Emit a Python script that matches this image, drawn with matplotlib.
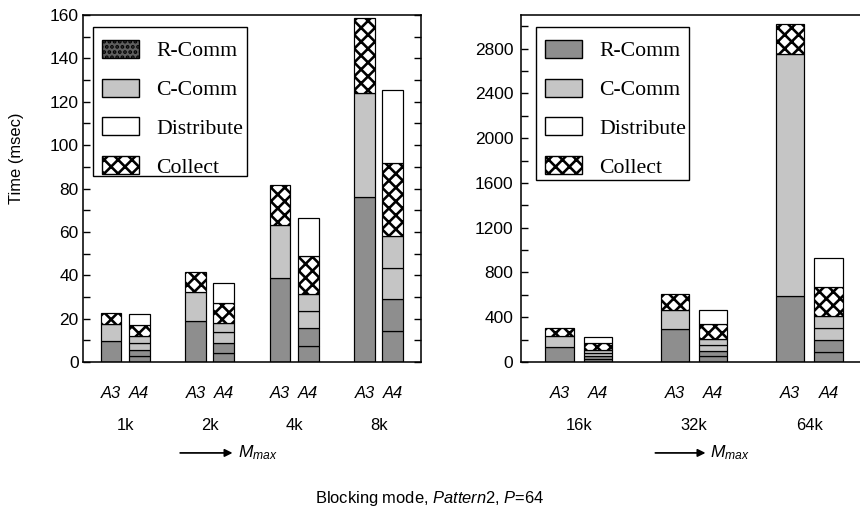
import matplotlib.pyplot as plt
from matplotlib.patches import Patch, Rectangle
from matplotlib.ticker import MultipleLocator

plt.rcParams['font.family'] = 'Liberation Sans'
plt.rcParams['mathtext.fontset'] = 'custom'
plt.rcParams['mathtext.rm'] = 'Liberation Sans'
plt.rcParams['mathtext.it'] = 'Liberation Sans:italic'
plt.rcParams['hatch.linewidth'] = 1.5

# message sizes 1k..8k (msec)
sizes_small = ['1k', '2k', '4k', '8k']
a3_rcomm_small = [9.8, 18.9, 38.6, 76.3]
a3_ccomm_small = [7.6, 13.3, 24.6, 47.7]
a3_collect_small = [5.1, 9.5, 18.2, 34.6]
a4_rcomm_small = [[2.8, 2.7], [4.3, 4.3], [7.5, 8.0], [14.3, 14.6]]
a4_ccomm_small = [[3.1, 3.4], [5.1, 4.5], [8.0, 8.0], [14.6, 14.8]]
a4_collect_small = [5.1, 9.2, 17.6, 33.4]
a4_distribute_small = [5.1, 8.9, 17.2, 33.5]

# message sizes 16k..64k (msec)
sizes_large = ['16k', '32k', '64k']
a3_rcomm_large = [138, 291, 592]
a3_ccomm_large = [90, 174, 2157]
a3_collect_large = [75, 144, 270]
a4_rcomm_large = [[27, 27], [51, 51], [93, 105]]
a4_ccomm_large = [[27, 27], [51, 51], [105, 105]]
a4_collect_large = [66, 135, 264]
a4_distribute_large = [48, 129, 261]

R_COLOR = '#8e8e8e'
C_COLOR = '#c5c5c5'
W = 0.245
OFF = 0.167
HATCH = 'xxx'

r_style = dict(facecolor=R_COLOR, edgecolor='black', linewidth=0.7)
c_style = dict(facecolor=C_COLOR, edgecolor='black', linewidth=0.7)
d_style = dict(facecolor='white', edgecolor='black', linewidth=0.7)
x_style = dict(facecolor='white', edgecolor='black', linewidth=0.7, hatch=HATCH)


def stack(ax, x, parts):
    bottom = 0
    for h, style in parts:
        ax.bar(x, h, W, bottom=bottom, **style)
        bottom += h


def panel(ax, sizes, a3r, a3c, a3x, a4r, a4c, a4x, a4d):
    for i in range(len(sizes)):
        stack(ax, i - OFF, [(a3r[i], r_style), (a3c[i], c_style), (a3x[i], x_style)])
        parts = [(h, r_style) for h in a4r[i]] + [(h, c_style) for h in a4c[i]]
        parts += [(a4x[i], x_style), (a4d[i], d_style)]
        stack(ax, i + OFF, parts)
    ax.set_xlim(-0.5, len(sizes) - 0.5)
    ax.set_xticks([])
    tr = ax.get_xaxis_transform()
    for i, s in enumerate(sizes):
        ax.text(i - OFF, -0.092, 'A3', transform=tr, ha='center', va='center',
                style='italic', fontsize=9.5)
        ax.text(i + OFF, -0.092, 'A4', transform=tr, ha='center', va='center',
                style='italic', fontsize=9.5)
        ax.text(i, -0.183, s, transform=tr, ha='center', va='center', fontsize=9.5)
    ax.tick_params(axis='y', direction='in', length=4, width=0.8, labelsize=10,
                   which='both')
    for sp in ax.spines.values():
        sp.set_linewidth(0.9)


fig = plt.figure(figsize=(6.88, 4.112), dpi=125)
ax1 = fig.add_axes([0.0965, 0.2957, 0.3930, 0.6751])
ax2 = fig.add_axes([0.6058, 0.2957, 0.4023, 0.6751])

panel(ax1, sizes_small, a3_rcomm_small, a3_ccomm_small, a3_collect_small,
      a4_rcomm_small, a4_ccomm_small, a4_collect_small, a4_distribute_small)
panel(ax2, sizes_large, a3_rcomm_large, a3_ccomm_large, a3_collect_large,
      a4_rcomm_large, a4_ccomm_large, a4_collect_large, a4_distribute_large)

ax1.set_ylim(0, 160)
ax1.yaxis.set_major_locator(MultipleLocator(20))
ax1.yaxis.set_minor_locator(MultipleLocator(10))
ax1.tick_params(axis='y', right=True, which='both', pad=2.5)

ax2.set_ylim(0, 3100)
ax2.yaxis.set_major_locator(MultipleLocator(400))
ax2.yaxis.set_minor_locator(MultipleLocator(200))
ax2.tick_params(axis='y', pad=4.5)

# M_max arrows under each panel
for ax, x1, x2, xt in [(ax1, 0.65, 1.27, 1.33), (ax2, 0.665, 1.10, 1.135)]:
    tr = ax.get_xaxis_transform()
    ax.annotate('', xy=(x2, -0.262), xytext=(x1, -0.262), xycoords=tr, textcoords=tr,
                arrowprops=dict(arrowstyle='-|>', color='black', lw=1.0,
                                mutation_scale=9, shrinkA=0, shrinkB=0))
    ax.text(xt, -0.262, '$M_{max}$', transform=tr, ha='left', va='center',
            fontsize=10)

# legends: entries without frame, box drawn as a plain rectangle
labels = ['R-Comm', 'C-Comm', 'Distribute', 'Collect']
leg_font = dict(family='Liberation Serif', size=12.5)
legend_specs = [
    (ax1, (0.024, 0.960), (0.0296, 0.5369, 0.4547, 0.4294), '#5e5e5e', '....'),
    (ax2, (0.037, 0.960), (0.0425, 0.5245, 0.4439, 0.4401), R_COLOR, None),
]
for ax, anchor, box, rface, rhatch in legend_specs:
    handles = [Patch(facecolor=rface, edgecolor='black', linewidth=0.8, hatch=rhatch),
               Patch(facecolor=C_COLOR, edgecolor='black', linewidth=0.8),
               Patch(facecolor='white', edgecolor='black', linewidth=0.8),
               Patch(facecolor='white', edgecolor='black', linewidth=0.8, hatch=HATCH)]
    ax.add_patch(Rectangle(box[:2], box[2], box[3], transform=ax.transAxes,
                           facecolor='white', edgecolor='black', linewidth=0.8,
                           zorder=4))
    leg = ax.legend(handles, labels, loc='upper left', bbox_to_anchor=anchor,
                    borderaxespad=0, prop=leg_font, handlelength=1.7,
                    handleheight=0.9, labelspacing=0.8, handletextpad=0.8,
                    borderpad=0.5, frameon=False)
    leg.set_zorder(5)

fig.text(17 / 860, 1 - 158 / 514, 'Time (msec)', rotation=90, ha='center',
         va='center', fontsize=9.5)
fig.text(430 / 860, 1 - 498 / 514, r'Blocking mode, $\mathit{Pattern2}$, $P$=64',
         ha='center', va='center', fontsize=9.5)

fig.savefig('out.png', dpi=125)
